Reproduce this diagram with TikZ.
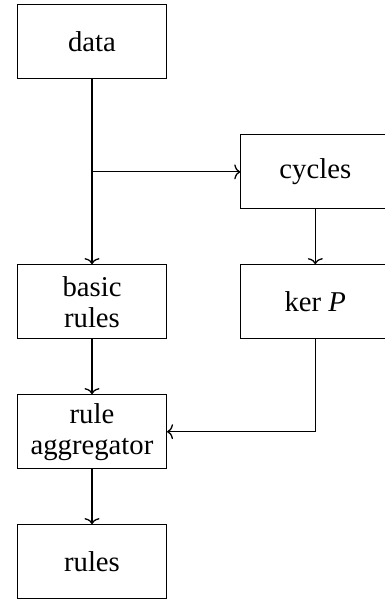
\documentclass[tikz,border=0pt]{standalone}
\usepackage{fontspec}
\setmainfont{Liberation Serif}
\usetikzlibrary{arrows.meta}
\begin{document}
\begin{tikzpicture}[x=1pt,y=-1pt,
  box/.style={draw, line width=1.1pt, minimum width=149pt, minimum height=74pt, align=center, inner sep=2pt,
    font=\fontsize{28.7}{31}\selectfont},
  conn/.style={line width=1.1pt, -{To[length=6pt,width=15pt,line width=1.3pt]}}]
\useasboundingbox (0,0) rectangle (384,604);
\node[box] (data) at (92,41.7) {data};
\node[box] (cycles) at (315.3,171.9) {cycles};
\node[box] (basic) at (92,301.7) {basic\\rules};
\node[box] (kerP) at (315.3,301.7) {ker \textit{P}};
\node[box] (agg) at (92,431.7) {rule\\aggregator};
\node[box] (rules) at (92,561.7) {rules};
\coordinate (j) at (data.south |- cycles.west);
\draw[conn] (data) -- (basic);
\draw[conn] (j) -- (cycles);
\draw[conn] (cycles) -- (kerP);
\draw[conn] (kerP.south) |- (agg.east);
\draw[conn] (basic) -- (agg);
\draw[conn] (agg) -- (rules);
\end{tikzpicture}
\end{document}
